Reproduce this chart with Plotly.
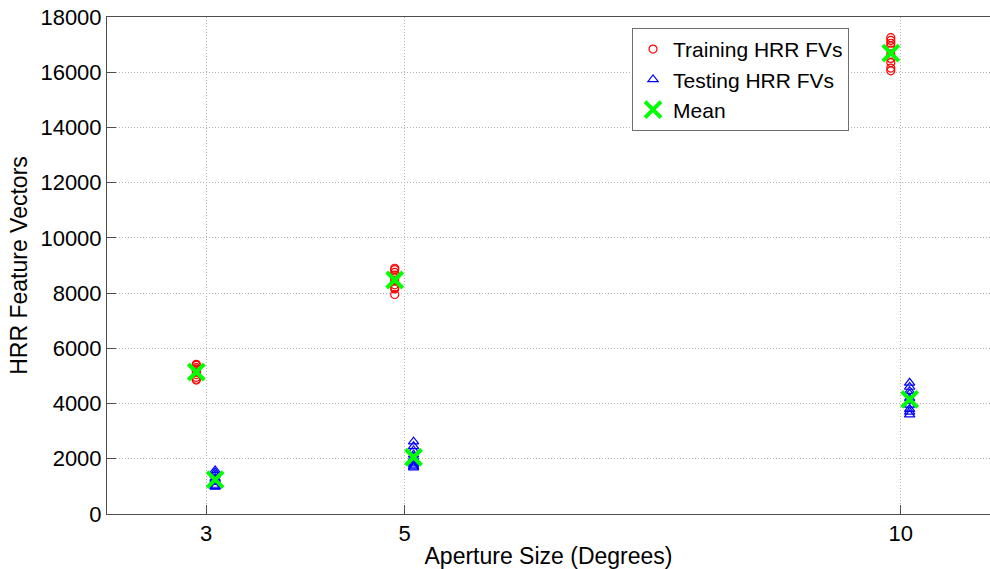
import numpy as np
import plotly.graph_objects as go

# Aperture sizes (degrees) and HRR feature-vector counts per run
apertures = [3, 5, 10]

train_3 = [5420, 5380, 5300, 5250, 5200, 5150, 5050, 4950, 4880, 4850]
train_5 = [8900, 8850, 8750, 8650, 8550, 8450, 8300, 8200, 8150, 7950]
train_10 = [17250, 17150, 17050, 16950, 16800, 16650, 16500, 16350, 16150, 16050]

test_3 = [1580, 1500, 1420, 1300, 1250, 1200, 1150, 1050, 1000, 980]
test_5 = [2620, 2450, 2300, 2150, 2050, 1950, 1850, 1780, 1720, 1680]
test_10 = [4750, 4600, 4450, 4350, 4200, 4100, 3950, 3800, 3700, 3600]

train_sets = [train_3, train_5, train_10]
test_sets = [test_3, test_5, test_10]

x_ticks = [3, 5, 10]
y_ticks = list(range(0, 18001, 2000))

# small horizontal offsets so the two groups sit side by side
OFF_TRAIN = -0.1
OFF_TEST = 0.09

font_family = "Liberation Sans, Arial, sans-serif"

tx, ty, sx, sy = [], [], [], []
for a, tr, te in zip(apertures, train_sets, test_sets):
    tx += [a + OFF_TRAIN] * len(tr)
    ty += tr
    sx += [a + OFF_TEST] * len(te)
    sy += te

mx, my = [], []
for a, tr, te in zip(apertures, train_sets, test_sets):
    mx += [a + OFF_TRAIN, a + OFF_TEST]
    my += [float(np.mean(tr)), float(np.mean(te))]

fig = go.Figure()
fig.add_trace(go.Scatter(
    x=tx, y=ty, mode="markers", name="Training HRR FVs",
    marker=dict(symbol="circle-open", size=8, color="#ff0000", line=dict(width=1.2)),
))
fig.add_trace(go.Scatter(
    x=sx, y=sy, mode="markers", name="Testing HRR FVs",
    marker=dict(symbol="triangle-up-open", size=9, color="#0000ff", line=dict(width=1.2)),
))
fig.add_trace(go.Scatter(
    x=mx, y=my, mode="markers", name="Mean",
    marker=dict(symbol="x-thin-open", size=16, color="#00ff00", line=dict(width=4, color="#00ff00")),
))

axis_common = dict(
    showgrid=True, gridcolor="#b4b4b4", griddash="1px,2px", gridwidth=1,
    showline=True, linecolor="#4d4d4d", linewidth=1,
    ticks="inside", ticklen=9, tickcolor="#4d4d4d",
    tickfont=dict(family=font_family, size=22, color="#000000"),
    zeroline=False,
)

fig.update_layout(
    width=990, height=569,
    margin=dict(l=107, r=0, t=17, b=55),
    paper_bgcolor="white", plot_bgcolor="white",
    font=dict(family=font_family, size=22, color="#000000"),
    showlegend=True,
    legend=dict(
        x=0.5946, y=0.978, xanchor="left", yanchor="top",
        bgcolor="white", bordercolor="#6e6e6e", borderwidth=1,
        font=dict(family=font_family, size=21, color="#000000"),
        itemsizing="trace", tracegroupgap=0,
    ),
    xaxis=dict(
        axis_common, range=[2, 10.9], tickvals=x_ticks, ticktext=[str(v) for v in x_ticks],
        mirror=True,
        title=dict(text="Aperture Size (Degrees)", font=dict(family=font_family, size=23), standoff=2),
    ),
    yaxis=dict(
        axis_common, range=[0, 18000], tickvals=y_ticks, ticktext=[str(v) for v in y_ticks],
        mirror=False,
        title=dict(text="HRR Feature Vectors", font=dict(family=font_family, size=23), standoff=6),
    ),
)

fig.write_html("out.html")
